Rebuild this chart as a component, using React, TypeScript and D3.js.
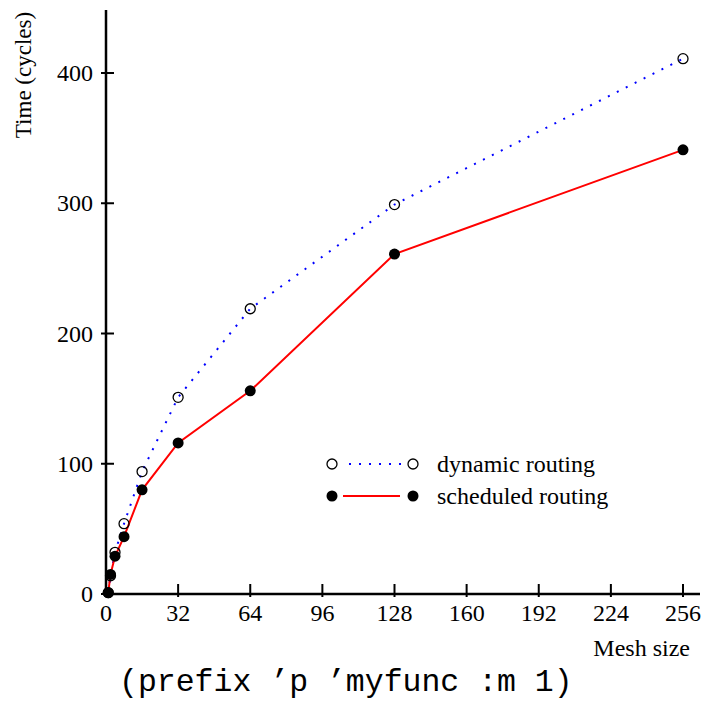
import React from "react";
import * as d3 from "d3";

const meshSizes = [1, 2, 4, 8, 16, 32, 64, 128, 256];
const dynamicTimes = [1, 14, 32, 54, 94, 151, 219, 299, 411];
const scheduledTimes = [1, 15, 29, 44, 80, 116, 156, 261, 341];
const xTicks = [0, 32, 64, 96, 128, 160, 192, 224, 256];
const yTicks = [0, 100, 200, 300, 400];
const seriesLabels = ["dynamic routing", "scheduled routing"];

const W = 706;
const H = 702;
const serif = "'Liberation Serif', 'Times New Roman', serif";

export default function App() {
  const x = d3.scaleLinear().domain([0, 256]).range([106, 683]);
  const y = d3.scaleLinear().domain([0, 400]).range([594, 73]);
  const line = d3
    .line<[number, number]>()
    .x((d) => x(d[0]))
    .y((d) => y(d[1]));
  const dyn: [number, number][] = meshSizes.map((m, i) => [m, dynamicTimes[i]]);
  const sch: [number, number][] = meshSizes.map((m, i) => [m, scheduledTimes[i]]);
  const x0 = x(0);
  const y0 = y(0);

  return (
    <svg
      width={W}
      height={H}
      style={{ position: "absolute", left: 0, top: 0, background: "#fff" }}
    >
      <rect width={W} height={H} fill="#fff" />
      {/* lines */}
      <path
        d={line(dyn) || ""}
        fill="none"
        stroke="#0000ff"
        strokeWidth={2}
        strokeDasharray="2 8"
      />
      <path d={line(sch) || ""} fill="none" stroke="#ff0000" strokeWidth={2} />
      {dyn.map((d, i) => (
        <circle
          key={"d" + i}
          cx={x(d[0])}
          cy={y(d[1])}
          r={5}
          fill="none"
          stroke="#000"
          strokeWidth={1.3}
        />
      ))}
      {sch.map((d, i) => (
        <circle key={"s" + i} cx={x(d[0])} cy={y(d[1])} r={5.5} fill="#000" />
      ))}
      {/* axes */}
      <line x1={x0} y1={10} x2={x0} y2={y0 + 1} stroke="#000" strokeWidth={2.5} />
      <line x1={x0 - 1} y1={y0} x2={700} y2={y0} stroke="#000" strokeWidth={2.5} />
      {xTicks.map((t) => (
        <g key={"xt" + t}>
          <line x1={x(t)} x2={x(t)} y1={y0 - 10} y2={y0 + 3} stroke="#000" strokeWidth={2} />
          <text
            x={x(t)}
            y={621}
            textAnchor="middle"
            fontFamily={serif}
            fontSize={24}
            fill="#000"
          >
            {t}
          </text>
        </g>
      ))}
      {yTicks.map((t) => (
        <g key={"yt" + t}>
          <line x1={x0 - 5} x2={x0 + 8} y1={y(t)} y2={y(t)} stroke="#000" strokeWidth={2} />
          <text
            x={93}
            y={y(t) + 8}
            textAnchor="end"
            fontFamily={serif}
            fontSize={24}
            fill="#000"
          >
            {t}
          </text>
        </g>
      ))}
      <text
        transform="translate(31,75) rotate(-90)"
        textAnchor="middle"
        fontFamily={serif}
        fontSize={23}
        fill="#000"
      >
        Time (cycles)
      </text>
      <text x={690} y={656} textAnchor="end" fontFamily={serif} fontSize={24} fill="#000">
        Mesh size
      </text>
      {/* legend */}
      <g>
        <circle cx={332} cy={464} r={5} fill="none" stroke="#000" strokeWidth={1.3} />
        <line
          x1={349}
          x2={402}
          y1={464}
          y2={464}
          stroke="#0000ff"
          strokeWidth={2}
          strokeDasharray="2 8"
        />
        <circle cx={413} cy={464} r={5} fill="none" stroke="#000" strokeWidth={1.3} />
        <text x={437} y={472} fontFamily={serif} fontSize={24} fill="#000">
          {seriesLabels[0]}
        </text>
        <circle cx={332} cy={496} r={5.5} fill="#000" />
        <line x1={343} x2={400} y1={496} y2={496} stroke="#ff0000" strokeWidth={2} />
        <circle cx={413} cy={496} r={5.5} fill="#000" />
        <text x={437} y={504} fontFamily={serif} fontSize={24} fill="#000">
          {seriesLabels[1]}
        </text>
      </g>
      <text
        x={119}
        y={691}
        fontFamily="'Liberation Mono', 'Courier New', monospace"
        fontSize={31.5}
        fill="#000"
      >
        (prefix ’p ’myfunc :m 1)
      </text>
    </svg>
  );
}
